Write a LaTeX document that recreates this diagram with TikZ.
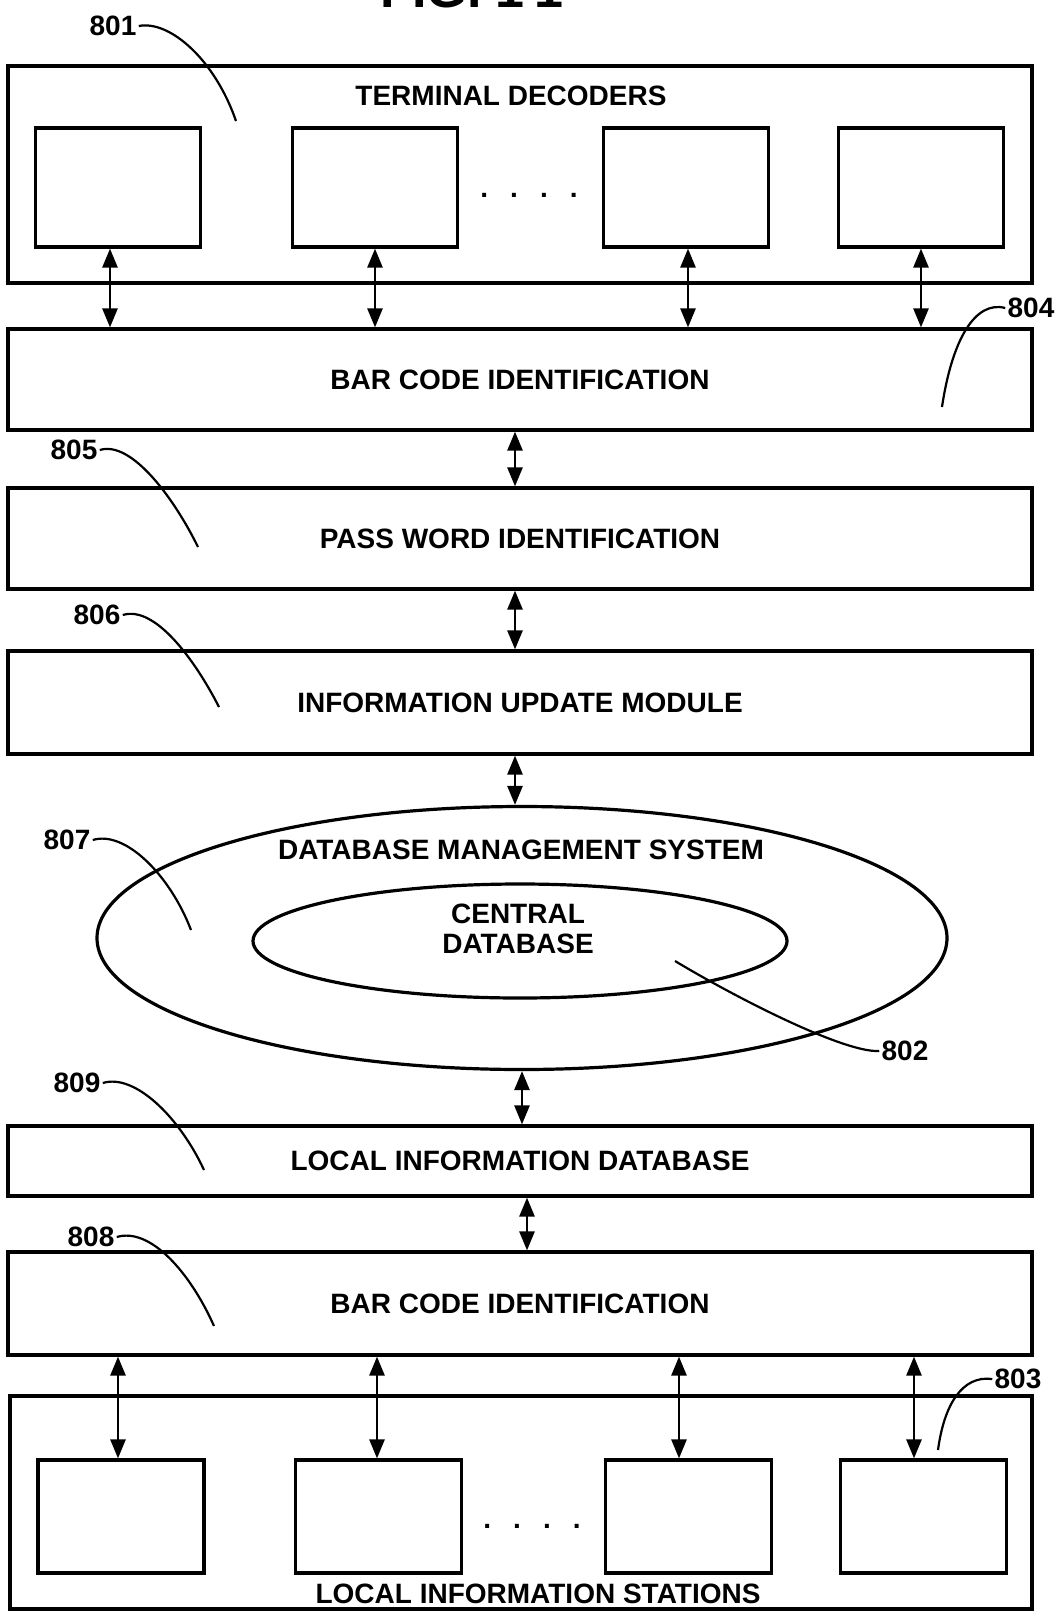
\documentclass[tikz,border=0pt]{standalone}
\usepackage{fontspec}
\setmainfont{Liberation Sans}
\usetikzlibrary{shapes.geometric,arrows.meta}
\begin{document}
\begin{tikzpicture}[x=0.5pt,y=-0.5pt,
  box/.style={draw,line width=1.6pt,inner sep=0pt,minimum width=512pt},
  small/.style={draw,line width=1.6pt,inner sep=0pt,minimum width=82.5pt},
  txt/.style={font=\fontsize{14}{15}\selectfont\bfseries,inner sep=0pt},
  lbl/.style={font=\fontsize{14}{15}\selectfont\bfseries,inner sep=1pt},
  arr/.style={line width=1.3pt,{Triangle[length=9.5pt,width=7.5pt]}-{Triangle[length=9.5pt,width=7.5pt]}},
  lead/.style={line width=1.1pt},
  ell/.style={draw,ellipse,line width=1.6pt,inner sep=0pt}]
\useasboundingbox (0,0) rectangle (1060,1612);

% title (partly cut off by the page edge, as in the reference)
\node[font=\fontsize{26}{28}\selectfont\bfseries,anchor=base west,inner sep=0pt] (fig) at (380,7) {FIG. 1\kern5pt1};

% terminal decoders
\node[box,minimum height=108.5pt] (td) at (520,174.5) {};
\node[txt] (tdt) at (511,96) {TERMINAL DECODERS};
\node[small,minimum height=59.5pt] (d1) at (118,187.5) {};
\node[small,minimum height=59.5pt] (d2) at (375,187.5) {};
\node[small,minimum height=59.5pt] (d3) at (686,187.5) {};
\node[small,minimum height=59.5pt] (d4) at (921,187.5) {};
\node[txt] (dots1) at (529,195) {.\hspace{11pt}.\hspace{11pt}.\hspace{11pt}.};

% stacked modules
\node[box,txt,minimum height=50.5pt] (bci) at (520,379.5) {BAR CODE IDENTIFICATION};
\node[box,txt,minimum height=50.5pt] (pwi) at (520,538.5) {PASS WORD IDENTIFICATION};
\node[box,txt,minimum height=51.5pt] (ium) at (520,702.5) {INFORMATION UPDATE MODULE};

\node[ell,minimum width=425pt,minimum height=131.5pt] (dms) at (522,938) {};
\node[txt] (dmst) at (521,850) {DATABASE MANAGEMENT SYSTEM};
\node[ell,minimum width=267pt,minimum height=57pt] (cdb) at (520,941) {};
\node[txt,align=center] (cdbt) at (518,929) {CENTRAL\\DATABASE};

\node[box,txt,minimum height=35pt] (lid) at (520,1161) {LOCAL INFORMATION DATABASE};
\node[box,txt,minimum height=51.5pt] (bci2) at (520,1303.5) {BAR CODE IDENTIFICATION};

% local information stations
\node[box,minimum width=511pt,minimum height=106.5pt] (lis) at (521,1502.5) {};
\node[txt] (list) at (538,1594) {LOCAL INFORMATION STATIONS};
\node[small,minimum width=83pt,minimum height=56.5pt] (s1) at (121,1516.5) {};
\node[small,minimum width=83pt,minimum height=56.5pt] (s2) at (378.5,1516.5) {};
\node[small,minimum width=83pt,minimum height=56.5pt] (s3) at (688.5,1516.5) {};
\node[small,minimum width=83pt,minimum height=56.5pt] (s4) at (923.5,1516.5) {};
\node[txt] (dots2) at (532,1526) {.\hspace{11pt}.\hspace{11pt}.\hspace{11pt}.};

% arrows
\draw[arr] ([xshift=-4pt]d1.south) -- ([xshift=-4pt]d1.south |- bci.north);
\draw[arr] (d2.south) -- (d2.south |- bci.north);
\draw[arr] ([xshift=1pt]d3.south) -- ([xshift=1pt]d3.south |- bci.north);
\draw[arr] (d4.south) -- (d4.south |- bci.north);
\draw[arr] ([xshift=-2.5pt]bci.south) -- ([xshift=-2.5pt]pwi.north);
\draw[arr] ([xshift=-2.5pt]pwi.south) -- ([xshift=-2.5pt]ium.north);
\draw[arr] ([xshift=-2.5pt]ium.south) -- ([xshift=-3.5pt]dms.north);
\draw[arr] (dms.south) -- (dms.south |- lid.north);
\draw[arr] ([xshift=3.5pt]lid.south) -- ([xshift=3.5pt]bci2.north);
\draw[arr] ([xshift=-1.5pt]s1.north |- bci2.south) -- ([xshift=-1.5pt]s1.north);
\draw[arr] ([xshift=-0.75pt]s2.north |- bci2.south) -- ([xshift=-0.75pt]s2.north);
\draw[arr] ([xshift=-4.75pt]s3.north |- bci2.south) -- ([xshift=-4.75pt]s3.north);
\draw[arr] ([xshift=-4.75pt]s4.north |- bci2.south) -- ([xshift=-4.75pt]s4.north);

% reference numerals and leaders
\node[lbl] (n801) at (113,26) {801};
\coordinate (e801) at (236,121);
\draw[lead] (n801.east) .. controls (170,20) and (215,60) .. (e801);

\node[lbl] (n804) at (1031,308) {804};
\coordinate (e804) at (942,407);
\draw[lead] (n804.west) .. controls (975,300) and (952,340) .. (e804);

\node[lbl] (n805) at (74,450) {805};
\coordinate (e805) at (198,547);
\draw[lead] (n805.east) .. controls (132,440) and (175,500) .. (e805);

\node[lbl] (n806) at (97,615) {806};
\coordinate (e806) at (219,707);
\draw[lead] (n806.east) .. controls (155,605) and (195,660) .. (e806);

\node[lbl] (n807) at (67,840) {807};
\coordinate (e807) at (191,930);
\draw[lead] (n807.east) .. controls (125,830) and (170,875) .. (e807);

\node[lbl] (n802) at (905,1051) {802};
\coordinate (e802) at (675,961);
\draw[lead] (n802.west) .. controls (845,1053) and (740,1000) .. (e802);

\node[lbl] (n809) at (77,1083) {809};
\coordinate (e809) at (204,1170);
\draw[lead] (n809.east) .. controls (135,1073) and (180,1118) .. (e809);

\node[lbl] (n808) at (91,1237) {808};
\coordinate (e808) at (214,1326);
\draw[lead] (n808.east) .. controls (150,1227) and (190,1272) .. (e808);

\node[lbl] (n803) at (1018,1379) {803};
\coordinate (e803) at (938,1450);
\draw[lead] (n803.west) .. controls (962,1375) and (944,1405) .. (e803);
\end{tikzpicture}
\end{document}
